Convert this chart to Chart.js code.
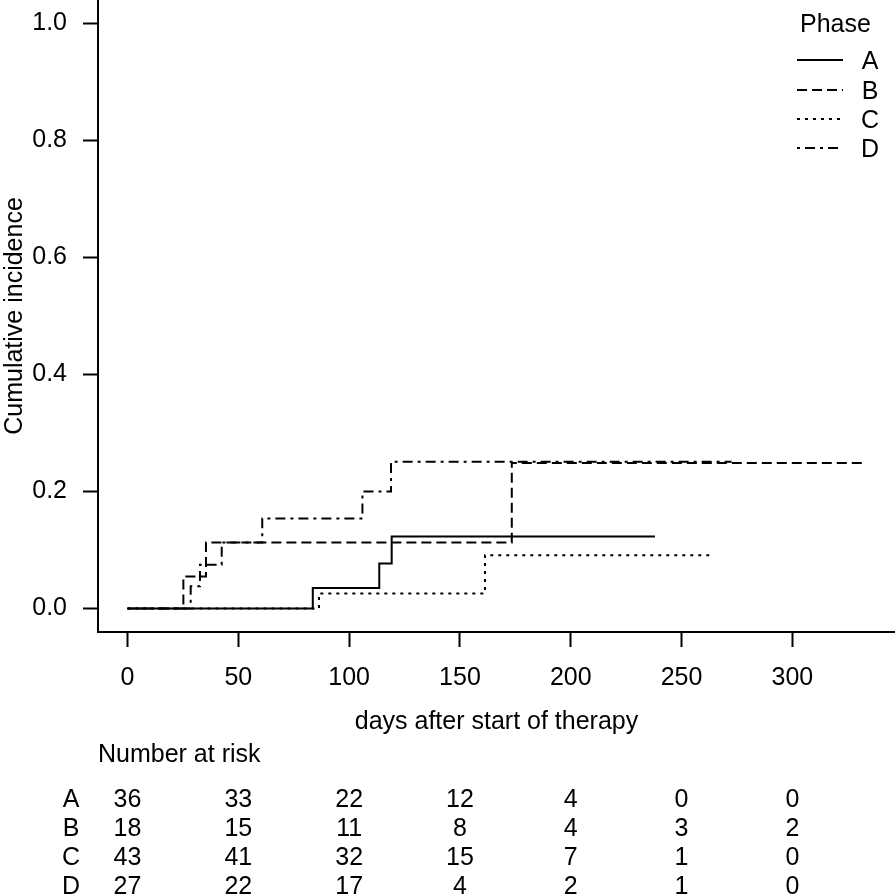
<!DOCTYPE html>
<html>
<head>
<meta charset="utf-8">
<script src="https://cdn.jsdelivr.net/npm/chart.js@4.4.0/dist/chart.umd.min.js"></script>
<style>
  html, body { margin: 0; padding: 0; background: #fff; }
  #wrap { width: 895px; height: 895px; position: relative; }
</style>
</head>
<body>
<div id="wrap"><canvas id="c" width="895" height="895"></canvas></div>
<script>
// ---- data ----
const phases = ['A', 'B', 'C', 'D'];
const timesA = [0, 83.6, 113.6, 119.2, 238];
const incA   = [0, 0.035, 0.077, 0.123, 0.123];
const timesB = [0, 25.2, 35.4, 173.4, 333];
const incB   = [0, 0.055, 0.113, 0.249, 0.249];
const timesC = [0, 86.4, 161.3, 263.3];
const incC   = [0, 0.026, 0.091, 0.091];
const timesD = [0, 28.5, 32.7, 42.5, 60.8, 106, 118.9, 272.6];
const incD   = [0, 0.038, 0.075, 0.113, 0.154, 0.2, 0.251, 0.251];

const xTicks = [0, 50, 100, 150, 200, 250, 300];
const yTicks = [0, 0.2, 0.4, 0.6, 0.8, 1.0];

const riskTimes = [0, 50, 100, 150, 200, 250, 300];
const riskA = [36, 33, 22, 12, 4, 0, 0];
const riskB = [18, 15, 11, 8, 4, 3, 2];
const riskC = [43, 41, 32, 15, 7, 1, 0];
const riskD = [27, 22, 17, 4, 2, 1, 0];

const xTitle = 'days after start of therapy';
const yTitle = 'Cumulative incidence';
const legendTitle = 'Phase';
const riskTitle = 'Number at risk';

// ---- build ----
const FONT = '"Liberation Sans", Arial, Helvetica, sans-serif';
const FS = 25;
const toPts = (xs, ys) => xs.map((x, i) => ({ x: x, y: ys[i] }));
const dashes = [[], [10, 5], [3, 5], [3, 5, 10, 5]];
const series = [[timesA, incA], [timesB, incB], [timesC, incC], [timesD, incD]];
const risks = [riskA, riskB, riskC, riskD];

const datasets = phases.map((p, i) => ({
  label: p,
  data: toPts(series[i][0], series[i][1]),
  borderColor: '#000',
  borderWidth: 2,
  borderDash: dashes[i],
  stepped: 'before',
  pointRadius: 0,
  fill: false,
  tension: 0
}));

const overlay = {
  id: 'overlay',
  afterDraw(chart) {
    const ctx = chart.ctx;
    const xs = chart.scales.x;
    ctx.save();
    ctx.fillStyle = '#000';
    ctx.strokeStyle = '#000';
    ctx.font = FS + 'px ' + FONT;
    ctx.textBaseline = 'alphabetic';
    // legend
    ctx.textAlign = 'left';
    ctx.fillText(legendTitle, 800, 32);
    const legY = [60, 90, 119, 148];
    chart.data.datasets.forEach((ds, i) => {
      ctx.beginPath();
      ctx.lineWidth = 2;
      ctx.setLineDash(ds.borderDash || []);
      ctx.moveTo(797, legY[i]);
      ctx.lineTo(843, legY[i]);
      ctx.stroke();
      ctx.setLineDash([]);
      ctx.textAlign = 'center';
      ctx.fillText(ds.label, 870, legY[i] + 9);
    });
    // risk table
    ctx.textAlign = 'left';
    ctx.fillText(riskTitle, 98, 762);
    const rowY = [807, 836, 865, 894];
    risks.forEach((row, r) => {
      ctx.textAlign = 'center';
      ctx.fillText(phases[r], 71, rowY[r]);
      row.forEach((v, j) => {
        ctx.fillText(String(v), xs.getPixelForValue(riskTimes[j]), rowY[r]);
      });
    });
    ctx.restore();
  }
};

new Chart(document.getElementById('c'), {
  type: 'line',
  data: { datasets },
  plugins: [overlay],
  options: {
    responsive: false,
    animation: false,
    devicePixelRatio: 1,
    layout: { padding: 0 },
    plugins: { legend: { display: false }, tooltip: { enabled: false } },
    scales: {
      x: {
        type: 'linear',
        min: -13.32,
        max: 346.32,
        afterBuildTicks: s => { s.ticks = xTicks.map(v => ({ value: v })); },
        afterFit: s => { s.height = 263; s.paddingLeft = 0; s.paddingRight = 0; },
        grid: { drawOnChartArea: false, drawTicks: true, tickLength: 15, tickWidth: 2, tickColor: '#000' },
        border: { display: true, color: '#000', width: 2 },
        ticks: { color: '#000', font: { family: FONT, size: FS }, padding: 16, maxRotation: 0, autoSkip: false,
                 callback: v => String(v) },
        title: { display: true, text: xTitle, color: '#000', font: { family: FONT, size: FS },
                 padding: { top: 0, bottom: 158 } }
      },
      y: {
        type: 'linear',
        min: -0.04,
        max: 1.04,
        afterBuildTicks: s => { s.ticks = yTicks.map(v => ({ value: v })); },
        afterFit: s => { s.width = 98; s.paddingTop = 0; s.paddingBottom = 0; },
        grid: { drawOnChartArea: false, drawTicks: true, tickLength: 15, tickWidth: 2, tickColor: '#000' },
        border: { display: true, color: '#000', width: 2 },
        ticks: { color: '#000', font: { family: FONT, size: FS }, padding: 16, autoSkip: false,
                 callback: v => Number(v).toFixed(1) },
        title: { display: true, text: yTitle, color: '#000', font: { family: FONT, size: FS },
                 padding: { top: 0, bottom: 0 } }
      }
    }
  }
});
</script>
</body>
</html>
